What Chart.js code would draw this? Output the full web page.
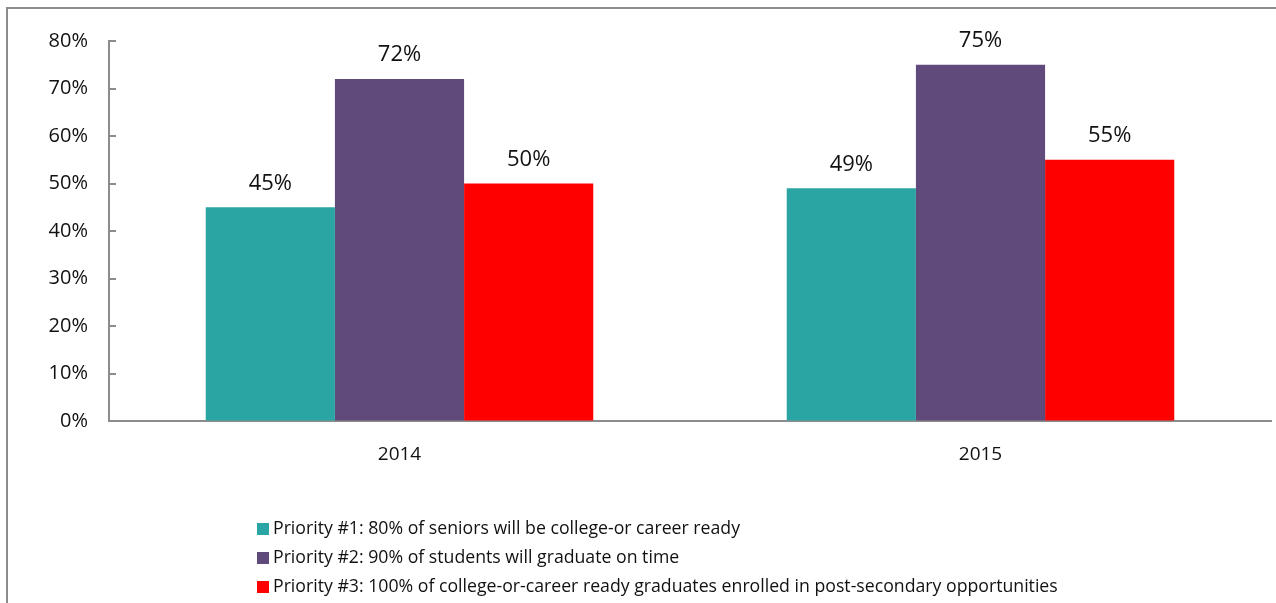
<!DOCTYPE html>
<html>
<head>
<meta charset="utf-8">
<script src="https://cdn.jsdelivr.net/npm/chart.js"></script>
<style>
  html, body { margin: 0; padding: 0; background: #fff; overflow: hidden; }
  #wrap { position: relative; width: 1276px; height: 603px; }
</style>
</head>
<body>
<div id="wrap"><canvas id="chart" width="1276" height="603"></canvas></div>
<script>
// Data
const categories = ["2014", "2015"];
const seriesNames = [
    "Priority #1: 80% of seniors will be college-or career ready",
    "Priority #2: 90% of students will graduate on time",
    "Priority #3: 100% of college-or-career ready graduates enrolled in post-secondary opportunities"
];
const priority1 = [45, 49];
const priority2 = [72, 75];
const priority3 = [50, 55];
const yTickValues = [0, 10, 20, 30, 40, 50, 60, 70, 80];
const seriesColors = ["#2aa5a3", "#604a7b", "#ff0000"];

const FONT = "'Open Sans', 'Noto Sans', sans-serif";
const axisGray = "#8c8c8c";

// gray frame round the chart (only left and top edges are visible)
const framePlugin = {
    id: "frame",
    beforeDraw(chart) {
        const ctx = chart.ctx;
        ctx.save();
        ctx.strokeStyle = axisGray;
        ctx.lineWidth = 2;
        ctx.beginPath();
        ctx.moveTo(7, chart.height);
        ctx.lineTo(7, 8);
        ctx.lineTo(chart.width, 8);
        ctx.stroke();
        ctx.restore();
    }
};

// small tick marks on the inside of the y axis
const yTickMarks = {
    id: "yTickMarks",
    afterDraw(chart) {
        const ctx = chart.ctx;
        const y = chart.scales.y;
        ctx.save();
        ctx.strokeStyle = axisGray;
        ctx.lineWidth = 2;
        y.ticks.forEach((t) => {
            const py = Math.round(y.getPixelForValue(t.value));
            ctx.beginPath();
            ctx.moveTo(y.right, py);
            ctx.lineTo(y.right + 7, py);
            ctx.stroke();
        });
        ctx.restore();
    }
};

// percentage labels above each bar
const valueLabels = {
    id: "valueLabels",
    afterDatasetsDraw(chart) {
        const ctx = chart.ctx;
        ctx.save();
        ctx.font = "22px " + FONT;
        ctx.fillStyle = "#111";
        ctx.textAlign = "center";
        ctx.textBaseline = "middle";
        chart.data.datasets.forEach((ds, i) => {
            chart.getDatasetMeta(i).data.forEach((bar, j) => {
                ctx.fillText(ds.data[j] + "%", bar.x, bar.y - 24);
            });
        });
        ctx.restore();
    }
};

// legend stacked vertically under the axis
const stackedLegend = {
    id: "stackedLegend",
    afterDraw(chart) {
        const ctx = chart.ctx;
        const left = 257;
        const firstY = 529;
        const step = 29;
        ctx.save();
        ctx.font = "17.7px " + FONT;
        ctx.textBaseline = "middle";
        ctx.textAlign = "left";
        chart.data.datasets.forEach((ds, i) => {
            const cy = firstY + i * step;
            ctx.fillStyle = ds.backgroundColor;
            ctx.fillRect(left, cy - 6, 12, 12);
            ctx.fillStyle = "#111";
            ctx.fillText(ds.label, left + 16, cy);
        });
        ctx.restore();
    }
};

const ctx = document.getElementById("chart").getContext("2d");
const chart = new Chart(ctx, {
    type: "bar",
    data: {
        labels: categories,
        datasets: [
            { label: seriesNames[0], data: priority1, backgroundColor: seriesColors[0] },
            { label: seriesNames[1], data: priority2, backgroundColor: seriesColors[1] },
            { label: seriesNames[2], data: priority3, backgroundColor: seriesColors[2] },
        ],
    },
    options: {
        responsive: false,
        animation: false,
        devicePixelRatio: 1,
        layout: { padding: { top: 41, right: 5, left: 0, bottom: 0 } },
        datasets: {
            bar: { categoryPercentage: 0.667, barPercentage: 1, borderWidth: 0 },
        },
        plugins: {
            legend: { display: false },
            tooltip: { enabled: false },
        },
        scales: {
            x: {
                grid: { display: false },
                border: { color: axisGray, width: 2 },
                ticks: { color: "#111", font: { family: FONT, size: 19 }, padding: 14 },
                afterFit(scale) { scale.height = 182; },
            },
            y: {
                min: 0,
                max: 80,
                afterBuildTicks(scale) {
                    scale.ticks = yTickValues.map((v) => ({ value: v }));
                },
                grid: { drawOnChartArea: false, drawTicks: false },
                border: { color: axisGray, width: 2 },
                ticks: {
                    color: "#111",
                    font: { family: FONT, size: 20 },
                    padding: 21,
                    callback: (v) => v + "%",
                },
                afterFit(scale) { scale.width = 109; },
            },
        },
    },
    plugins: [framePlugin, yTickMarks, valueLabels, stackedLegend],
});
</script>
</body>
</html>
